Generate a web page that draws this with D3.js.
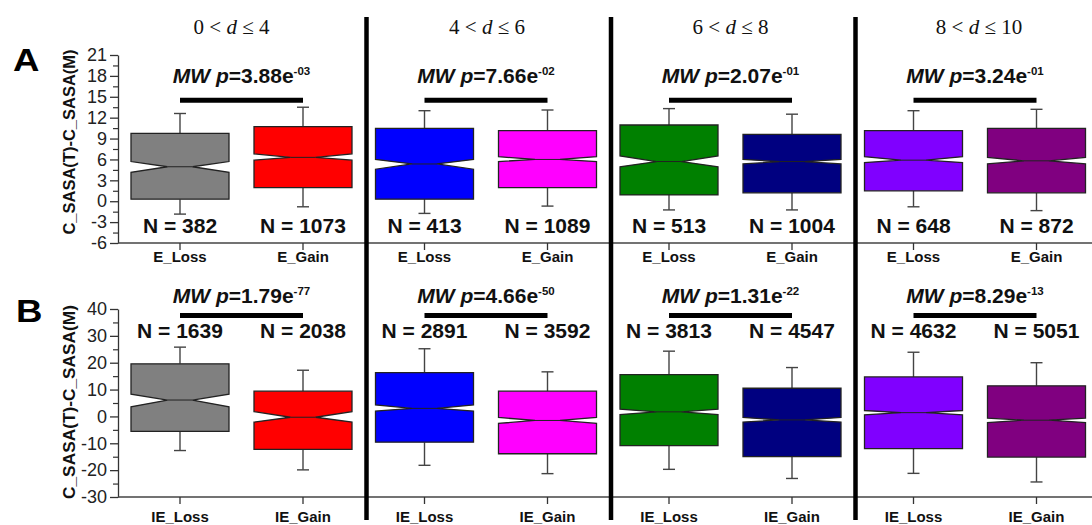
<!DOCTYPE html>
<html><head><meta charset="utf-8">
<script src="https://cdn.jsdelivr.net/npm/d3@7"></script>
<style>body{margin:0;background:#fff}svg{display:block}</style>
</head><body><svg id="c" width="1092" height="525"></svg>
<script>
// ---- data ----
const panelLow = ["0", "4", "6", "8"];
const panelHigh = ["4", "6", "8", "10"];
const groups = ["Loss", "Gain"];
const boxColors = ["#808080", "#ff0000", "#0000ff", "#ff00ff", "#008000", "#000080", "#8000ff", "#800080"];

const yTicksA = [-6, -3, 0, 3, 6, 9, 12, 15, 18, 21];
const yMinorA = [-4.5, -1.5, 1.5, 4.5, 7.5, 10.5, 13.5, 16.5, 19.5];
const yTicksB = [-30, -20, -10, 0, 10, 20, 30, 40];
const yMinorB = [-25, -15, -5, 5, 15, 25, 35];

// Row A (E_Loss / E_Gain), boxes in order: panel1 Loss, panel1 Gain, panel2 Loss, ...
const aWhiskerHigh = [12.6, 13.5, 13.0, 13.1, 13.3, 12.5, 13.0, 13.2];
const aQ3 = [9.75, 10.7, 10.45, 10.15, 10.95, 9.6, 10.15, 10.45];
const aNotchHigh = [5.7, 6.8, 6.0, 6.4, 6.5, 6.0, 6.4, 6.3];
const aMedian = [4.95, 6.3, 5.35, 6.0, 5.7, 5.7, 5.9, 5.8];
const aNotchLow = [4.15, 5.9, 4.6, 5.7, 4.95, 5.35, 5.55, 5.35];
const aQ1 = [0.3, 1.95, 0.3, 1.95, 0.9, 1.2, 1.5, 1.2];
const aWhiskerLow = [-1.85, -0.8, -1.75, -0.7, -1.25, -1.25, -0.8, -1.35];
const aN = [382, 1073, 413, 1089, 513, 1004, 648, 872];
const aPMant = ["3.88", "7.66", "2.07", "3.24"];
const aPExp = ["-03", "-02", "-01", "-01"];

// Row B (IE_Loss / IE_Gain)
const bWhiskerHigh = [25.8, 17.2, 25.2, 16.6, 24.3, 18.2, 23.9, 20.0];
const bQ3 = [19.6, 9.4, 16.3, 9.4, 15.6, 10.5, 14.7, 11.4];
const bNotchHigh = [8.3, 1.8, 4.3, -0.4, 2.7, -0.4, 2.2, -0.6];
const bMedian = [6.1, -0.3, 3.0, -1.5, 1.7, -1.3, 1.4, -1.4];
const bNotchLow = [3.6, -2.1, 2.0, -2.6, 0.7, -2.1, 0.6, -2.3];
const bQ1 = [-5.6, -12.3, -9.6, -13.9, -10.85, -15.0, -12.0, -15.15];
const bWhiskerLow = [-12.7, -19.9, -18.2, -21.3, -19.7, -23.1, -21.2, -24.4];
const bN = [1639, 2038, 2891, 3592, 3813, 4547, 4632, 5051];
const bPMant = ["1.79", "4.66", "1.31", "8.29"];
const bPExp = ["-77", "-50", "-22", "-13"];

// ---- layout ----
const W = 1092, H = 525;
const SANS = "'Liberation Sans', Arial, sans-serif";
const SERIF = "'Liberation Serif', 'Times New Roman', serif";
const svg = d3.select("#c");
const axisX = 118;

const panelX = d3.scaleBand().domain(d3.range(4)).range([122, 1100]).paddingInner(0).paddingOuter(0);
const innerX = d3.scalePoint().domain(groups).range([58, 181]);
const boxW = 98, notchHalf = 12.5, capHalf = 6;

const rows = [
  { letter: "A", prefix: "E_", domain: [-6, 21], range: [243, 55], ticks: yTicksA, minor: yMinorA,
    wHi: aWhiskerHigh, q3: aQ3, nHi: aNotchHigh, med: aMedian, nLo: aNotchLow, q1: aQ1, wLo: aWhiskerLow,
    n: aN, pM: aPMant, pE: aPExp, barV: 14.5, mwY: 83, nY: 233, xLabDy: 19, letterY: 71, labelY: 142 },
  { letter: "B", prefix: "IE_", domain: [-30, 40], range: [497, 309], ticks: yTicksB, minor: yMinorB,
    wHi: bWhiskerHigh, q3: bQ3, nHi: bNotchHigh, med: bMedian, nLo: bNotchLow, q1: bQ1, wLo: bWhiskerLow,
    n: bN, pM: bPMant, pE: bPExp, barV: 37.6, mwY: 303, nY: 338, xLabDy: 25, letterY: 322, labelY: 402 }
];

// titles
const titleShift = [-10, 1, 0, 4];
d3.range(4).forEach(i => {
  const cx = panelX(i) + (innerX("Loss") + innerX("Gain")) / 2 + titleShift[i];
  const t = svg.append("text").attr("x", cx).attr("y", 34).attr("text-anchor", "middle")
    .attr("font-family", SERIF).attr("font-size", 21).attr("fill", "#111");
  t.append("tspan").text(panelLow[i] + " < ");
  t.append("tspan").attr("font-style", "italic").text("d");
  t.append("tspan").text(" \u2264 " + panelHigh[i]);
});

rows.forEach(r => {
  const y = d3.scaleLinear().domain(r.domain).range(r.range);
  const g = svg.append("g");

  // y axis
  const ax = g.append("g").attr("transform", `translate(${axisX},0)`)
    .call(d3.axisLeft(y).tickValues(r.ticks).tickSize(8).tickSizeOuter(0).tickPadding(3).tickFormat(d => String(d)));
  ax.selectAll("text").attr("font-family", SANS).attr("font-size", 18).attr("fill", "#222");
  ax.selectAll("line,path").attr("stroke", "#333").attr("stroke-width", 1.3);
  const axm = g.append("g").attr("transform", `translate(${axisX},0)`)
    .call(d3.axisLeft(y).tickValues(r.minor).tickSize(5).tickSizeOuter(0).tickFormat(""));
  axm.select("path").remove();
  axm.selectAll("line").attr("stroke", "#333").attr("stroke-width", 1.2);

  // x axis line
  const y0 = y(r.domain[0]);
  g.append("line").attr("x1", axisX).attr("x2", W).attr("y1", y0).attr("y2", y0)
    .attr("stroke", "#444").attr("stroke-width", 1.5);

  // y label
  g.append("text").attr("transform", `translate(75,${r.labelY}) rotate(-90)`)
    .attr("text-anchor", "middle").attr("font-family", SANS).attr("font-weight", "bold")
    .attr("font-size", r.letter === "A" ? 16.5 : 17.3).attr("fill", "#111").text("C_SASA(T)-C_SASA(M)");

  // panel letter
  const lx = r.letter === "A" ? 13 : 16;
  g.append("text").attr("x", lx).attr("y", r.letterY)
    .attr("transform", `translate(${lx},0) scale(1.18,1) translate(${-lx},0)`)
    .attr("font-family", SANS).attr("font-weight", "bold").attr("font-size", 31).attr("fill", "#000").text(r.letter);

  d3.range(4).forEach(p => {
    const px = panelX(p);
    const xl = px + innerX("Loss"), xg = px + innerX("Gain");
    // significance bar
    g.append("line").attr("x1", xl).attr("x2", xg).attr("y1", y(r.barV)).attr("y2", y(r.barV))
      .attr("stroke", "#000").attr("stroke-width", 5);
    // MW label
    const t = g.append("text").attr("x", (xl + xg) / 2).attr("y", r.mwY).attr("text-anchor", "middle")
      .attr("font-family", SANS).attr("font-weight", "bold").attr("font-size", 21).attr("fill", "#111");
    t.append("tspan").attr("font-style", "italic").text("MW p");
    t.append("tspan").text("=" + r.pM[p] + "e");
    t.append("tspan").attr("font-size", 11.5).attr("dy", -8).text(r.pE[p]);

    groups.forEach((gr, k) => {
      const i = p * 2 + k;
      const cx = px + innerX(gr);
      const x0 = cx - boxW / 2, x1 = cx + boxW / 2;
      // whiskers
      [[r.q3[i], r.wHi[i]], [r.q1[i], r.wLo[i]]].forEach(([a, b]) => {
        g.append("line").attr("x1", cx).attr("x2", cx).attr("y1", y(a)).attr("y2", y(b))
          .attr("stroke", "#444").attr("stroke-width", 1.4);
        g.append("line").attr("x1", cx - capHalf).attr("x2", cx + capHalf).attr("y1", y(b)).attr("y2", y(b))
          .attr("stroke", "#444").attr("stroke-width", 1.4);
      });
      // notched box
      const pts = [
        [x0, y(r.q3[i])], [x1, y(r.q3[i])], [x1, y(r.nHi[i])], [cx + notchHalf, y(r.med[i])],
        [x1, y(r.nLo[i])], [x1, y(r.q1[i])], [x0, y(r.q1[i])], [x0, y(r.nLo[i])],
        [cx - notchHalf, y(r.med[i])], [x0, y(r.nHi[i])]
      ];
      g.append("path").attr("d", "M" + pts.map(q => q.join(",")).join("L") + "Z")
        .attr("fill", boxColors[i]).attr("stroke", "#222").attr("stroke-width", 1.3);
      g.append("line").attr("x1", cx - notchHalf).attr("x2", cx + notchHalf)
        .attr("y1", y(r.med[i])).attr("y2", y(r.med[i])).attr("stroke", "#222").attr("stroke-width", 1);
      // N label
      g.append("text").attr("x", cx).attr("y", r.nY).attr("text-anchor", "middle")
        .attr("font-family", SANS).attr("font-weight", "bold").attr("font-size", 21).attr("fill", "#111")
        .text("N = " + r.n[i]);
      // x tick + label
      g.append("line").attr("x1", cx).attr("x2", cx).attr("y1", y0).attr("y2", y0 + 7)
        .attr("stroke", "#333").attr("stroke-width", 1.3);
      g.append("text").attr("x", cx).attr("y", y0 + r.xLabDy).attr("text-anchor", "middle")
        .attr("font-family", SANS).attr("font-weight", "bold").attr("font-size", 15).attr("fill", "#111")
        .text(r.prefix + gr);
    });
  });
});

// panel dividers
d3.range(1, 4).forEach(i => {
  svg.append("line").attr("x1", panelX(i)).attr("x2", panelX(i)).attr("y1", 17).attr("y2", 520)
    .attr("stroke", "#000").attr("stroke-width", 4.5);
});
</script></body></html>
